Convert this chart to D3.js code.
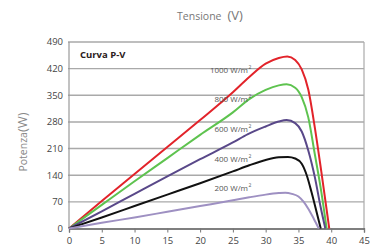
<!DOCTYPE html>
<html>
<head>
<meta charset="utf-8">
<script src="https://cdn.jsdelivr.net/npm/d3@7"></script>
<style>
  body { margin: 0; background: #fff; }
  text { font-family: "Open Sans", "DejaVu Sans", sans-serif; }
</style>
</head>
<body>
<div id="chart"></div>
<script>
// tick labels
var xTicks = [0, 5, 10, 15, 20, 25, 30, 35, 40, 45];
var yTicks = [0, 70, 140, 210, 280, 350, 420, 490];

// irradiance levels (voltage V, power W)
var irradiance = ['1000', '800', '600', '400', '200'];
var colors = ['#e2232a', '#5ec34f', '#594889', '#111111', '#9e90c2'];

var volts1000 = [0, 5, 10, 15, 20, 25, 27.5, 30, 32, 33.3, 34.5, 35.5, 36.5, 37.5, 38.5, 39.7];
var power1000 = [0, 72, 143, 214, 285, 358, 398, 433, 448, 452, 443, 418, 365, 265, 148, 0];

var volts800 = [0, 5, 10, 15, 20, 25, 27.5, 30, 32, 33.2, 34.5, 35.5, 36.5, 37.5, 38.5, 39.3];
var power800 = [0, 62, 124, 185, 246, 305, 340, 364, 376, 379, 370, 345, 292, 195, 95, 0];

var volts600 = [0, 5, 10, 15, 20, 25, 27.3, 30, 32, 33.2, 34.5, 35.5, 36.5, 37.5, 38.4, 39.1];
var power600 = [0, 45, 91, 137, 182, 226, 248, 268, 281, 285, 277, 255, 205, 135, 55, 0];

var volts400 = [0, 5, 10, 15, 20, 25, 27.5, 30, 32, 33.4, 34.5, 35.5, 36.3, 37, 37.7, 38.4];
var power400 = [0, 29, 59, 89, 119, 150, 166, 180, 187, 188, 184, 170, 138, 95, 48, 0];

var volts200 = [0, 5, 10, 15, 20, 25, 27.5, 30, 32, 33, 34, 35, 35.8, 36.5, 37.3, 38.1];
var power200 = [0, 15, 29, 44, 59, 74, 82, 89, 93, 94, 91, 84, 70, 52, 27, 0];

var voltsAll = [volts1000, volts800, volts600, volts400, volts200];
var powerAll = [power1000, power800, power600, power400, power200];

var W = 373, H = 248;
var plotL = 69, plotR = 364, plotT = 42, plotB = 228.5;

var svg = d3.select('#chart')
    .append('svg')
    .attr('width', W)
    .attr('height', H);

var x = d3.scaleLinear().domain([0, 45]).range([plotL, plotR]);
var y = d3.scaleLinear().domain([0, 490]).range([plotB, plotT]);

// horizontal grid
svg.append('g')
    .selectAll('line')
    .data(yTicks.slice(1))
    .enter().append('line')
    .attr('x1', plotL - 1)
    .attr('x2', plotR)
    .attr('y1', function (d) { return y(d); })
    .attr('y2', function (d) { return y(d); })
    .attr('stroke', '#a9a9a9')
    .attr('stroke-width', 1.4);

// left and right borders
svg.append('line')
    .attr('x1', plotL).attr('x2', plotL)
    .attr('y1', plotT).attr('y2', plotB)
    .attr('stroke', '#999').attr('stroke-width', 1.2);
svg.append('line')
    .attr('x1', plotR).attr('x2', plotR)
    .attr('y1', plotT).attr('y2', plotB)
    .attr('stroke', '#aaa').attr('stroke-width', 1.2);

// y tick labels
svg.append('g')
    .selectAll('text')
    .data(yTicks)
    .enter().append('text')
    .attr('x', plotL - 6)
    .attr('y', function (d) { return y(d); })
    .attr('dy', '0.35em')
    .attr('text-anchor', 'end')
    .attr('font-size', 9.5)
    .attr('fill', '#444')
    .text(function (d) { return d; });

// bottom axis
var xAxis = d3.axisBottom(x)
    .tickValues(xTicks)
    .tickSize(4)
    .tickPadding(5);
var gx = svg.append('g')
    .attr('transform', 'translate(0,' + plotB + ')')
    .call(xAxis);
gx.select('.domain').attr('stroke', '#555').attr('stroke-width', 1.3);
gx.selectAll('.tick line').attr('stroke', '#777');
gx.selectAll('.tick text')
    .attr('font-size', 9.5)
    .attr('fill', '#444')
    .attr('font-family', '"Open Sans", "DejaVu Sans", sans-serif');

// curves
var line = d3.line()
    .x(function (d) { return x(d[0]); })
    .y(function (d) { return y(d[1]); })
    .curve(d3.curveMonotoneX);

irradiance.forEach(function (name, i) {
    var pts = d3.zip(voltsAll[i], powerAll[i]);
    svg.append('path')
        .datum(pts)
        .attr('fill', 'none')
        .attr('stroke', colors[i])
        .attr('stroke-width', 2)
        .attr('d', line);
});

// curve labels
var labelY = [70, 99, 129, 159, 188];
irradiance.forEach(function (name, i) {
    svg.append('text')
        .attr('x', 248)
        .attr('y', labelY[i])
        .attr('dy', '0.35em')
        .attr('text-anchor', 'end')
        .attr('font-size', 8)
        .attr('fill', '#555')
        .text(name + ' W/m');
    svg.append('text')
        .attr('x', 248.5)
        .attr('y', labelY[i] - 1)
        .attr('font-size', 5)
        .attr('fill', '#555')
        .text('2');
});

// title box label
svg.append('text')
    .attr('x', 80)
    .attr('y', 58)
    .attr('font-size', 9.5)
    .attr('font-weight', 'bold')
    .attr('fill', '#2a2020')
    .text('Curva P-V');

// axis titles
var xt = svg.append('text')
    .attr('x', 210)
    .attr('y', 20)
    .attr('text-anchor', 'middle')
    .attr('fill', '#777');
xt.append('tspan').attr('font-size', 10.5).text('Tensione');
xt.append('tspan').attr('font-size', 13).attr('dx', 6).text('(V)');

var yt = svg.append('text')
    .attr('transform', 'translate(27,142) rotate(-90)')
    .attr('text-anchor', 'middle')
    .attr('fill', '#888');
yt.append('tspan').attr('font-size', 10.5).text('Potenza');
yt.append('tspan').attr('font-size', 13).text('(W)');
</script>
</body>
</html>
